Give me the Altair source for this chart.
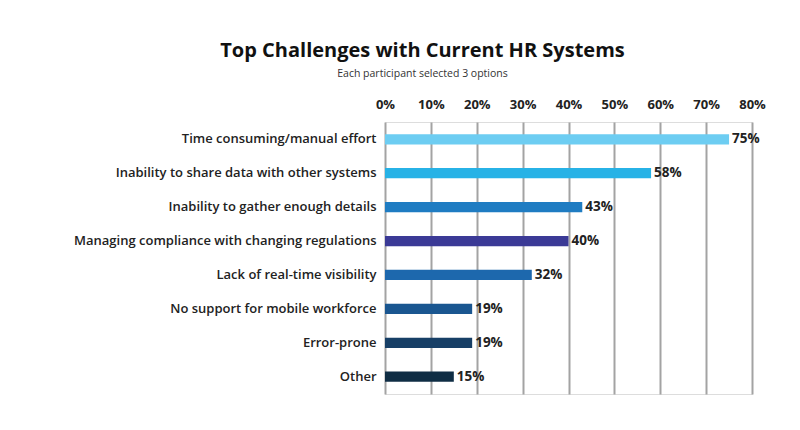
import altair as alt
import pandas as pd

categories = [
    "Time consuming/manual effort",
    "Inability to share data with other systems",
    "Inability to gather enough details",
    "Managing compliance with changing regulations",
    "Lack of real-time visibility",
    "No support for mobile workforce",
    "Error-prone",
    "Other",
]
values = [75, 58, 43, 40, 32, 19, 19, 15]
colors = ["#6dcdf2", "#27b2e6", "#1f7cc2", "#3b3a96", "#1d68ad", "#1a5690", "#173f66", "#0f2d44"]
tick_values = [0, 10, 20, 30, 40, 50, 60, 70, 80]

df = pd.DataFrame({"cat": categories, "val": values, "color": colors,
                   "label": [f"{v}%" for v in values]})

FONT = "Open Sans"

base = alt.Chart(df).encode(
    y=alt.Y("cat:N", sort=categories, title=None,
            scale=alt.Scale(paddingInner=0.7, paddingOuter=0.36),
            axis=alt.Axis(labelFont=FONT, labelFontSize=13, labelFontWeight=600,
                          labelColor="#222", ticks=False, domain=False,
                          labelPadding=9, labelLimit=400))
)

bars = base.mark_bar(cornerRadius=0).encode(
    x=alt.X("val:Q", title=None,
            scale=alt.Scale(domain=[0, 80], nice=False),
            axis=alt.Axis(orient="top", values=tick_values, labelExpr="datum.value + '%'",
                          labelFont=FONT, labelFontSize=13, labelFontWeight=700,
                          labelColor="#222", ticks=False, domain=False, labelFlush=False,
                          labelPadding=11, grid=True, gridColor="#a3a3a3",
                          gridWidth=2, gridOpacity=1)),
    color=alt.Color("color:N", scale=None),
)

labels = base.mark_text(align="left", baseline="middle", dx=3, font=FONT,
                        fontSize=13.5, fontWeight=700, color="#222").encode(
    x="val:Q", text="label:N"
)

chart = (bars + labels).properties(
    width=367, height=272,
    title=alt.TitleParams(
        "Top Challenges with Current HR Systems",
        subtitle="Each participant selected 3 options",
        anchor="middle", dx=-146, font=FONT, fontSize=20, fontWeight=700,
        color="#111", subtitleFont=FONT, subtitleFontSize=10.5,
        subtitleColor="#333", subtitlePadding=8, offset=19,
    ),
    autosize=alt.AutoSizeParams(type="none"),
    padding={"left": 385, "top": 122, "right": 48, "bottom": 36},
).configure_view(stroke=None).configure(background="white")

chart.save("out.html", embed_options={"renderer": "svg", "actions": False})
